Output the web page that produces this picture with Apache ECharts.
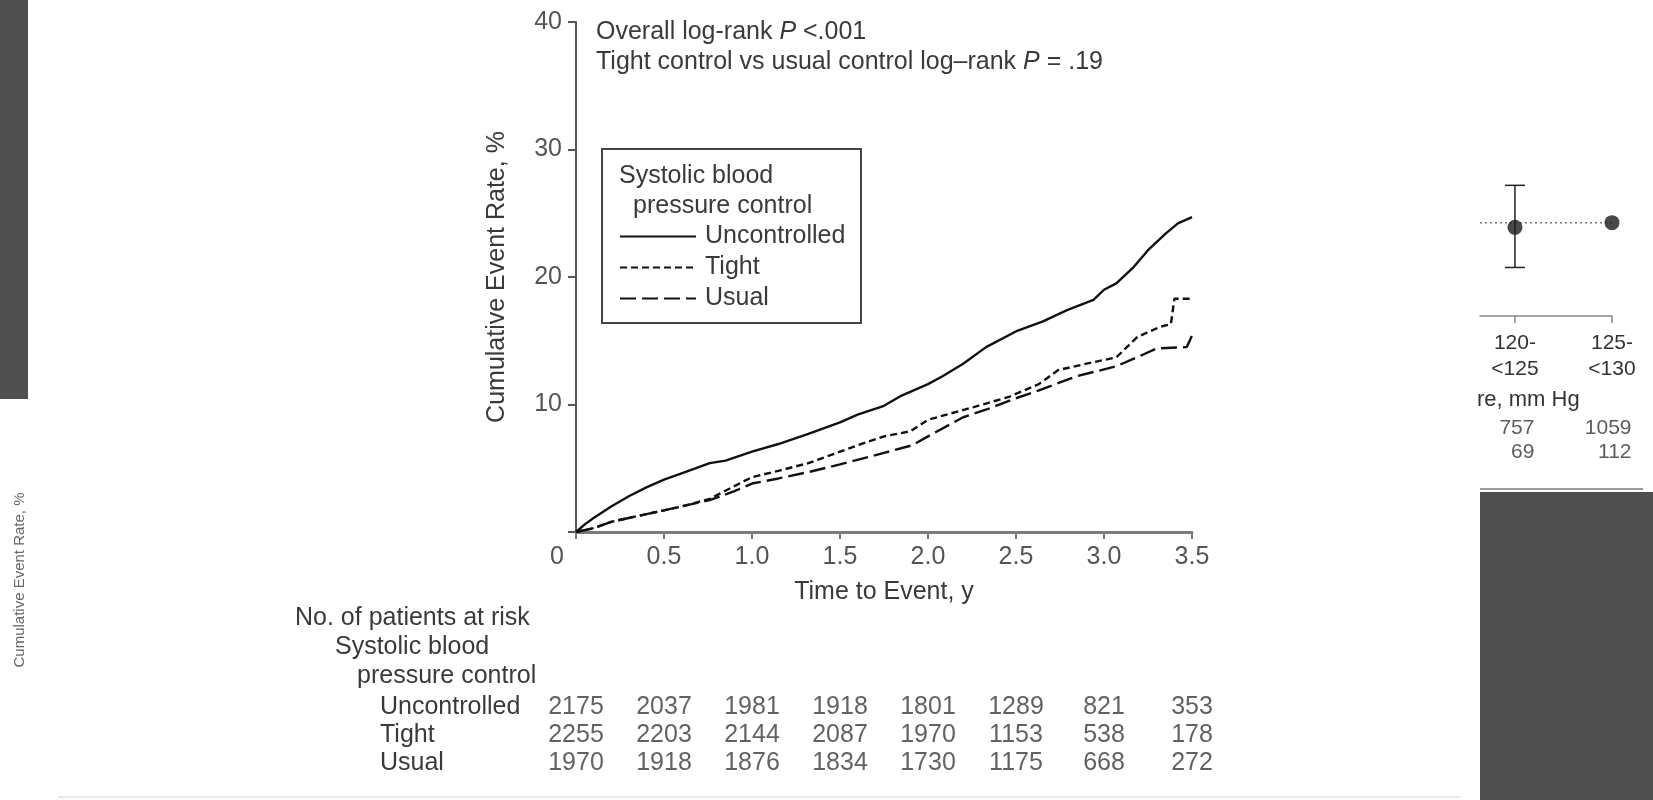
<!DOCTYPE html>
<html>
<head>
<meta charset="utf-8">
<title>Cumulative Event Rate by Systolic Blood Pressure Control</title>
<script src="https://cdn.jsdelivr.net/npm/echarts@6/dist/echarts.min.js"></script>
<style>
  html, body { margin: 0; padding: 0; background: #ffffff; }
  #chart { width: 1653px; height: 800px; }
</style>
</head>
<body>
<div id="chart"></div>
<script>
// Kaplan-Meier style cumulative event rate (%) by time (years)
const groups = ['Uncontrolled', 'Tight', 'Usual'];

const uncontrolledCurve = [
  [0, 0], [0.05, 0.6], [0.1, 1.1], [0.2, 2.0], [0.3, 2.8], [0.4, 3.5], [0.5, 4.1],
  [0.6, 4.6], [0.76, 5.4], [0.85, 5.6], [1.0, 6.3], [1.15, 6.9], [1.32, 7.7],
  [1.5, 8.6], [1.6, 9.2], [1.75, 9.9], [1.85, 10.7], [2.0, 11.6], [2.08, 12.2],
  [2.2, 13.2], [2.33, 14.5], [2.51, 15.8], [2.65, 16.5], [2.79, 17.4], [2.94, 18.2],
  [3.0, 19.0], [3.07, 19.5], [3.17, 20.8], [3.25, 22.1], [3.35, 23.4], [3.42, 24.2],
  [3.5, 24.7]
];

const tightCurve = [
  [0, 0], [0.1, 0.3], [0.2, 0.8], [0.3, 1.1], [0.4, 1.4], [0.5, 1.7], [0.6, 2.0],
  [0.76, 2.6], [0.9, 3.6], [1.0, 4.3], [1.15, 4.8], [1.32, 5.4], [1.5, 6.3],
  [1.6, 6.8], [1.75, 7.5], [1.9, 7.9], [2.0, 8.8], [2.26, 9.8], [2.46, 10.6],
  [2.63, 11.6], [2.74, 12.7], [2.9, 13.2], [3.07, 13.7], [3.19, 15.3], [3.32, 16.1],
  [3.38, 16.3], [3.4, 18.3], [3.5, 18.3]
];

const usualCurve = [
  [0, 0], [0.1, 0.3], [0.2, 0.8], [0.3, 1.1], [0.5, 1.7], [0.76, 2.5], [0.9, 3.2],
  [1.0, 3.8], [1.15, 4.2], [1.32, 4.7], [1.5, 5.3], [1.75, 6.2], [1.91, 6.8],
  [2.0, 7.5], [2.2, 9.0], [2.35, 9.7], [2.48, 10.4], [2.63, 11.1], [2.84, 12.2],
  [3.07, 13.0], [3.22, 13.9], [3.3, 14.4], [3.47, 14.5], [3.5, 15.4]
];

// Number of patients at risk
const riskTimes = [0, 0.5, 1.0, 1.5, 2.0, 2.5, 3.0, 3.5];
const riskUncontrolled = [2175, 2037, 1981, 1918, 1801, 1289, 821, 353];
const riskTight = [2255, 2203, 2144, 2087, 1970, 1153, 538, 178];
const riskUsual = [1970, 1918, 1876, 1834, 1730, 1175, 668, 272];

// Neighbouring panel: systolic blood pressure categories
const bpCategories = ['120-\n<125', '125-\n<130'];
const bpEstimate = [0.95, 1.0];
const bpLower = [0.52];
const bpUpper = [1.40];
const bpPatients = [757, 1059];
const bpEvents = [69, 112];

const FONT = '"Liberation Sans", Arial, Helvetica, sans-serif';
const TEXT = '#3a3a3a';

const riskRows = [riskUncontrolled, riskTight, riskUsual];
const riskData = [];
riskRows.forEach((row, r) => row.forEach((n, i) => riskData.push([riskTimes[i], r, n])));

const countData = [];
bpPatients.forEach((n, i) => countData.push([i, 0, n]));
bpEvents.forEach((n, i) => countData.push([i, 1, n]));

const chart = echarts.init(document.getElementById('chart'), null, { renderer: 'canvas' });

const option = {
  animation: false,
  backgroundColor: '#ffffff',
  textStyle: { fontFamily: FONT },
  grid: [
    { left: 576, top: 22, width: 616, height: 510 },
    { left: 576, top: 693, width: 616, height: 84 },
    { left: 1480, top: 176, width: 132, height: 140 },
    { left: 1480, top: 417, width: 132, height: 48 }
  ],
  legend: {
    data: groups,
    orient: 'vertical',
    left: 619,
    top: 224,
    padding: 0,
    itemWidth: 76,
    itemHeight: 14,
    itemGap: 6,
    selectedMode: false,
    itemStyle: { opacity: 0 },
    textStyle: { fontSize: 25, color: TEXT, padding: [0, 0, 0, 4], fontFamily: FONT }
  },
  xAxis: [
    {
      gridIndex: 0, type: 'value', min: 0, max: 3.5, interval: 0.5,
      name: 'Time to Event, y', nameLocation: 'middle', nameGap: 48,
      nameTextStyle: { fontSize: 25, color: TEXT },
      axisLine: { show: true, lineStyle: { color: '#7a7a7a', width: 3 } },
      axisTick: { show: true, length: 7, lineStyle: { color: '#7a7a7a', width: 2 } },
      splitLine: { show: false },
      axisLabel: {
        margin: 13, fontSize: 25, color: '#555',
        formatter: v => (v === 0 ? '{z|0}' : v.toFixed(1)),
        rich: { z: { fontSize: 25, color: '#555', padding: [0, 38, 0, 0] } }
      }
    },
    { gridIndex: 1, type: 'value', min: 0, max: 3.5, show: false },
    {
      gridIndex: 2, type: 'value', min: -0.36, max: 1,
      axisLine: { show: true, lineStyle: { color: '#888', width: 1.5 } },
      axisTick: { show: true, customValues: [0, 1], length: 7, lineStyle: { color: '#888', width: 1.5 } },
      splitLine: { show: false },
      axisLabel: {
        customValues: [0, 1], margin: 14, fontSize: 21, lineHeight: 26, color: '#333',
        formatter: v => bpCategories[Math.round(v)]
      }
    },
    { gridIndex: 3, type: 'value', min: -0.36, max: 1, show: false }
  ],
  yAxis: [
    {
      gridIndex: 0, type: 'value', min: 0, max: 40, interval: 10,
      name: 'Cumulative Event Rate, %', nameLocation: 'middle', nameGap: 66,
      nameTextStyle: { fontSize: 25, color: TEXT },
      axisLine: { show: true, lineStyle: { color: '#555', width: 2 } },
      axisTick: { show: true, length: 8, lineStyle: { color: '#555', width: 2 } },
      splitLine: { show: false },
      axisLabel: { margin: 14, fontSize: 25, color: '#555', formatter: v => (v === 0 ? '' : String(v)) }
    },
    {
      gridIndex: 1, type: 'category', data: groups, inverse: true,
      axisLine: { show: false }, axisTick: { show: false }, splitLine: { show: false },
      axisLabel: { interval: 0, align: 'left', margin: 196, fontSize: 25, color: TEXT }
    },
    { gridIndex: 2, type: 'value', min: 0, max: 1.5, show: false },
    { gridIndex: 3, type: 'category', data: ['patients', 'events'], inverse: true, show: false }
  ],
  series: [
    {
      name: 'Uncontrolled', type: 'line', xAxisIndex: 0, yAxisIndex: 0,
      data: uncontrolledCurve, symbol: 'none',
      lineStyle: { color: '#111', width: 2.4, type: 'solid' }, itemStyle: { color: '#111' }
    },
    {
      name: 'Tight', type: 'line', xAxisIndex: 0, yAxisIndex: 0,
      data: tightCurve, symbol: 'none',
      lineStyle: { color: '#111', width: 2.4, type: [7, 4] }, itemStyle: { color: '#111' }
    },
    {
      name: 'Usual', type: 'line', xAxisIndex: 0, yAxisIndex: 0,
      data: usualCurve, symbol: 'none',
      lineStyle: { color: '#111', width: 2.4, type: [16, 6] }, itemStyle: { color: '#111' }
    },
    {
      name: 'at risk', type: 'scatter', xAxisIndex: 1, yAxisIndex: 1,
      data: riskData, symbolSize: 1, itemStyle: { color: 'rgba(0,0,0,0)' },
      label: {
        show: true, position: 'inside', fontSize: 25, color: TEXT,
        formatter: p => String(p.value[2])
      },
      silent: true
    },
    {
      name: 'reference', type: 'line', xAxisIndex: 2, yAxisIndex: 2,
      data: [[-0.36, 1], [1, 1]], symbol: 'none',
      lineStyle: { color: '#777', width: 1.5, type: [2, 3] }, silent: true
    },
    {
      name: 'interval', type: 'custom', xAxisIndex: 2, yAxisIndex: 2,
      data: bpLower.map((lo, i) => [i, lo, bpUpper[i]]),
      renderItem: (params, api) => {
        const top = api.coord([api.value(0), api.value(2)]);
        const bot = api.coord([api.value(0), api.value(1)]);
        const half = 10;
        const st = { stroke: '#222', lineWidth: 1.5 };
        return {
          type: 'group',
          children: [
            { type: 'line', shape: { x1: top[0], y1: top[1], x2: bot[0], y2: bot[1] }, style: st },
            { type: 'line', shape: { x1: top[0] - half, y1: top[1], x2: top[0] + half, y2: top[1] }, style: st },
            { type: 'line', shape: { x1: bot[0] - half, y1: bot[1], x2: bot[0] + half, y2: bot[1] }, style: st }
          ]
        };
      },
      silent: true
    },
    {
      name: 'estimate', type: 'scatter', xAxisIndex: 2, yAxisIndex: 2,
      data: bpEstimate.map((v, i) => [i, v]), symbolSize: 15,
      itemStyle: { color: '#1a1a1a' }, silent: true, z: 5
    },
    {
      name: 'counts', type: 'scatter', xAxisIndex: 3, yAxisIndex: 3,
      data: countData, symbolSize: 1, itemStyle: { color: 'rgba(0,0,0,0)' },
      label: {
        show: true, position: [20, 0], align: 'right', verticalAlign: 'middle',
        fontSize: 21, color: '#333', formatter: p => String(p.value[2])
      },
      silent: true
    }
  ],
  graphic: [
    { type: 'rect', shape: { x: 0, y: 0, width: 28, height: 399 }, style: { fill: '#4f4f4f' }, silent: true },
    { type: 'rect', shape: { x: 1480, y: 492, width: 173, height: 308 }, style: { fill: '#4f4f4f' }, silent: true },
    { type: 'line', shape: { x1: 1480, y1: 489, x2: 1643, y2: 489 }, style: { stroke: '#9a9a9a', lineWidth: 2 }, silent: true },
    { type: 'line', shape: { x1: 58, y1: 797, x2: 1460, y2: 797 }, style: { stroke: '#e8e8e8', lineWidth: 2 }, silent: true },
    {
      type: 'text', x: 20, y: 580, rotation: Math.PI / 2,
      style: { text: 'Cumulative Event Rate, %', fontSize: 15, fill: '#666', align: 'center', verticalAlign: 'middle', fontFamily: FONT }
    },
    {
      type: 'text', x: 596, y: 32,
      style: {
        text: '{n|Overall log-rank }{i|P}{n| <.001}',
        verticalAlign: 'middle',
        rich: {
          n: { fontSize: 25, fill: TEXT, fontFamily: FONT },
          i: { fontSize: 25, fill: TEXT, fontStyle: 'italic', fontFamily: FONT }
        }
      }
    },
    {
      type: 'text', x: 596, y: 62,
      style: {
        text: '{n|Tight control vs usual control log\u2013rank }{i|P}{n| = .19}',
        verticalAlign: 'middle',
        rich: {
          n: { fontSize: 25, fill: TEXT, fontFamily: FONT },
          i: { fontSize: 25, fill: TEXT, fontStyle: 'italic', fontFamily: FONT }
        }
      }
    },
    { type: 'rect', shape: { x: 602, y: 149, width: 259, height: 174 }, style: { fill: 'none', stroke: '#444', lineWidth: 2 }, silent: true },
    { type: 'text', x: 619, y: 176, style: { text: 'Systolic blood', fontSize: 25, fill: TEXT, verticalAlign: 'middle', fontFamily: FONT } },
    { type: 'text', x: 633, y: 206, style: { text: 'pressure control', fontSize: 25, fill: TEXT, verticalAlign: 'middle', fontFamily: FONT } },
    { type: 'text', x: 295, y: 618, style: { text: 'No. of patients at risk', fontSize: 25, fill: TEXT, verticalAlign: 'middle', fontFamily: FONT } },
    { type: 'text', x: 335, y: 647, style: { text: 'Systolic blood', fontSize: 25, fill: TEXT, verticalAlign: 'middle', fontFamily: FONT } },
    { type: 'text', x: 357, y: 676, style: { text: 'pressure control', fontSize: 25, fill: TEXT, verticalAlign: 'middle', fontFamily: FONT } },
    { type: 'text', x: 1477, y: 400, style: { text: 're, mm Hg', fontSize: 22, fill: '#333', verticalAlign: 'middle', fontFamily: FONT } }
  ]
};

chart.setOption(option);
</script>
</body>
</html>
